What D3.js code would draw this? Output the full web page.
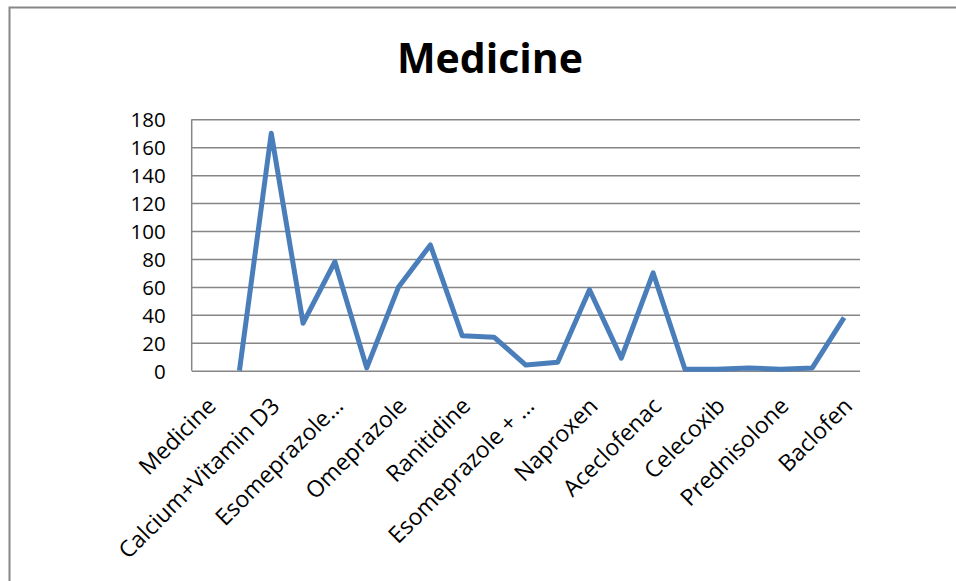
<!DOCTYPE html>
<html>
<head>
<meta charset="utf-8">
<script src="https://cdn.jsdelivr.net/npm/d3@7"></script>
<style>
  html, body { margin: 0; padding: 0; background: #fff; }
  svg { display: block; }
  svg text { font-family: "Open Sans", "Noto Sans", sans-serif; }
</style>
</head>
<body>
<svg id="chart" width="956" height="581"></svg>
<script>
// Category slots along the x axis; only every other name is printed on the axis.
const categories = [
  "Medicine", null, "Calcium+Vitamin D3", null, "Esomeprazole…", null,
  "Omeprazole", null, "Ranitidine", null, "Esomeprazole + …", null,
  "Naproxen", null, "Aceclofenac", null, "Celecoxib", null,
  "Prednisolone", null, "Baclofen"
];
// Counts per slot (first slot is the header row, so it has no value).
const values = [
  null, 0, 170, 34, 78, 2, 60, 90, 25, 24, 4,
  6, 58, 9, 70, 1, 1, 2, 1, 2, 38
];
const yTicks = [0, 20, 40, 60, 80, 100, 120, 140, 160, 180];
const chartTitle = "Medicine";

const svg = d3.select("#chart");
const W = 956, H = 581;
const plot = { left: 191.7, right: 860, top: 119.3, bottom: 370.7 };
const FONT = '"Open Sans", "Noto Sans", sans-serif';

// Outer chart frame
svg.append("rect")
  .attr("x", 9.5).attr("y", 7.5)
  .attr("width", W + 10).attr("height", H + 10)
  .attr("fill", "#fff")
  .attr("stroke", "#878787").attr("stroke-width", 2);

const x = d3.scaleBand()
  .domain(d3.range(categories.length))
  .range([plot.left, plot.right])
  .padding(0);

const y = d3.scaleLinear()
  .domain([0, 180])
  .range([plot.bottom, plot.top]);

// Horizontal gridlines
const yAxis = d3.axisLeft(y)
  .tickValues(yTicks)
  .tickSize(-(plot.right - plot.left))
  .tickFormat(d3.format("d"))
  .tickPadding(26);

const gy = svg.append("g")
  .attr("transform", `translate(${plot.left},0)`)
  .call(yAxis)
  .attr("font-family", FONT)
  .attr("font-size", 20.5);
gy.select(".domain").remove();
gy.selectAll(".tick line")
  .attr("stroke", "#868686").attr("stroke-width", 1.5);
gy.selectAll(".tick text")
  .attr("fill", "#000")
  .attr("dy", "0.36em");

// Left axis line
svg.append("line")
  .attr("x1", plot.left).attr("x2", plot.left)
  .attr("y1", plot.top).attr("y2", plot.bottom)
  .attr("stroke", "#868686").attr("stroke-width", 1.5);

// Category labels (rotated)
const xAxis = d3.axisBottom(x)
  .tickValues(d3.range(0, categories.length, 2))
  .tickSize(0)
  .tickFormat(i => categories[i]);

const gx = svg.append("g")
  .attr("transform", `translate(0,${plot.bottom})`)
  .call(xAxis)
  .attr("font-family", FONT)
  .attr("font-size", 23);
gx.select(".domain").remove();
gx.selectAll(".tick text")
  .attr("fill", "#000")
  .attr("text-anchor", "end")
  .attr("x", 0).attr("y", 0).attr("dy", "0.35em")
  .attr("transform", "translate(4,31) rotate(-45)");

// Data line
const line = d3.line()
  .defined(d => d != null)
  .x((d, i) => x(i) + x.bandwidth() / 2)
  .y(d => y(d));

svg.append("path")
  .datum(values)
  .attr("fill", "none")
  .attr("stroke", "#4a7ebb")
  .attr("stroke-width", 5)
  .attr("stroke-linejoin", "round")
  .attr("d", line);

// Title
svg.append("text")
  .attr("x", 490).attr("y", 73)
  .attr("text-anchor", "middle")
  .attr("font-family", FONT)
  .attr("font-size", 41)
  .attr("font-weight", "bold")
  .attr("fill", "#000")
  .text(chartTitle);
</script>
</body>
</html>
